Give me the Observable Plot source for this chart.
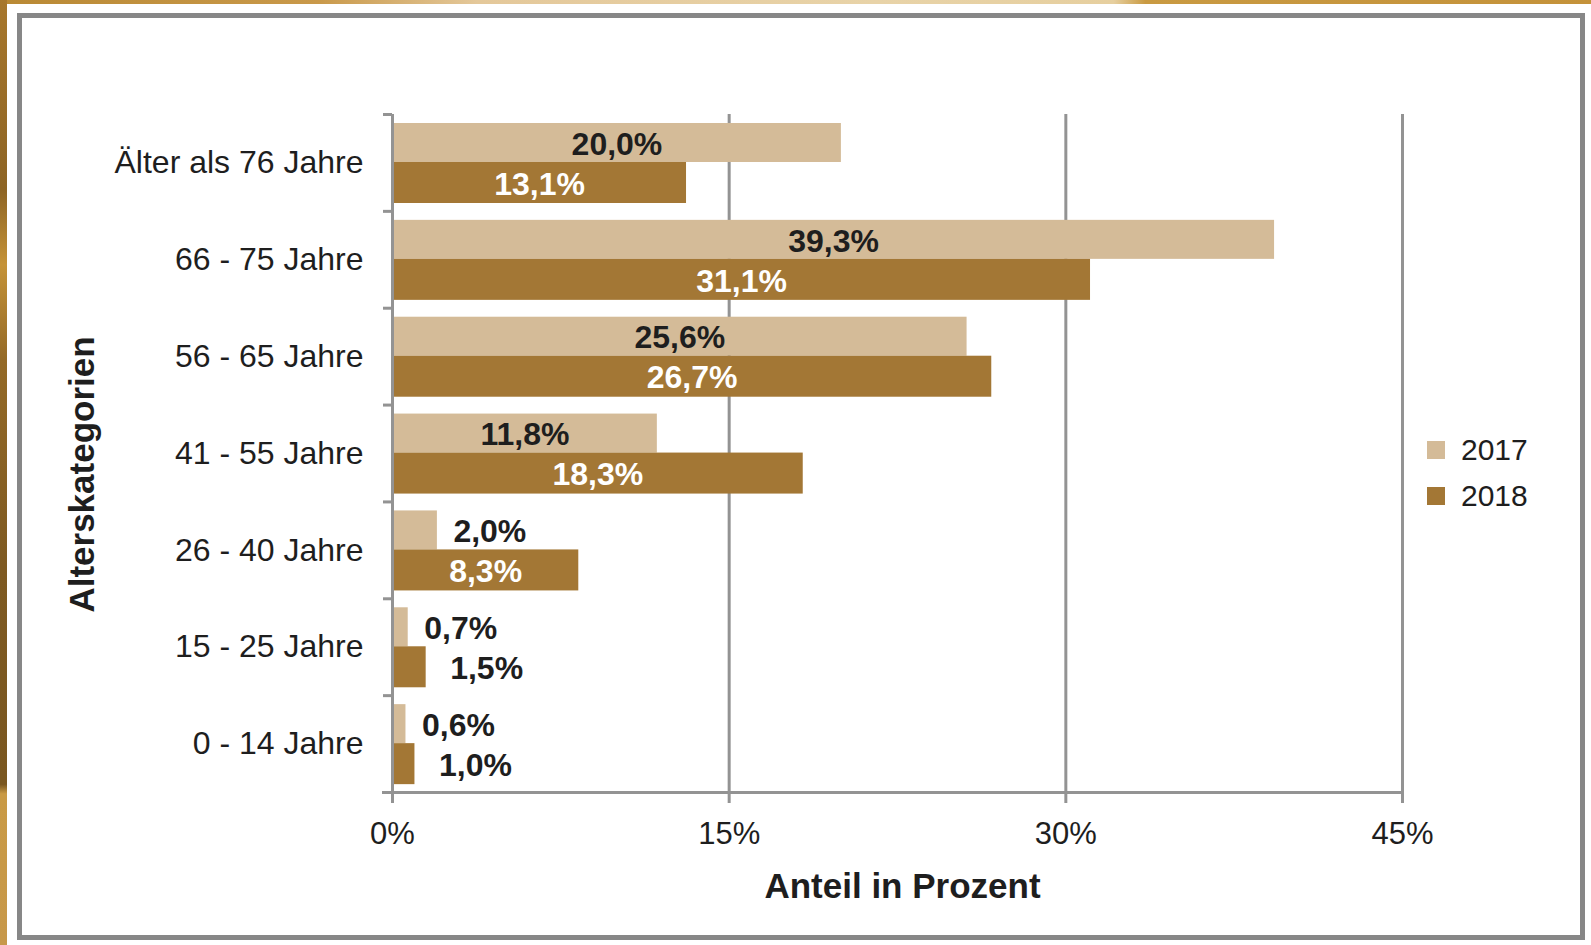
<!DOCTYPE html>
<html>
<head>
<meta charset="utf-8">
<script src="https://cdn.jsdelivr.net/npm/d3@7"></script>
<script src="https://cdn.jsdelivr.net/npm/@observablehq/plot@0.6"></script>
<style>
  html, body { margin: 0; padding: 0; background: #ffffff; overflow: hidden; }
  #page { position: relative; width: 1591px; height: 945px; background: #ffffff; }
  #goldTop { position: absolute; left: 0; top: 0; width: 1591px; height: 4px;
    background: linear-gradient(90deg, #b98934 0%, #c9994a 20%, #e4c89a 30%, #e8d3a8 55%, #e6cf9f 70%, #c99a42 72%, #c4923a 100%); }
  #goldLeft { position: absolute; left: 0; top: 0; width: 7px; height: 945px;
    background: linear-gradient(180deg, #a7772c 0%, #8d6424 20%, #c59338 28%, #946a27 38%, #7e5a22 60%, #7a5720 83%, #c99a45 84%, #c7984a 100%); }
  #frame { position: absolute; left: 17px; top: 13px; width: 1558px; height: 917px;
    border: 5px solid #878787; background: #ffffff; }
  #chart { position: absolute; left: 0; top: 0; width: 1591px; height: 945px; }
  .legend { position: absolute; left: 1427px; font-family: "Liberation Sans", Arial, sans-serif;
    font-size: 30px; color: #1e1e1e; display: flex; align-items: center; }
  .legend .sw { width: 18px; height: 18px; margin-right: 16px; }
</style>
</head>
<body>
<div id="page">
  <div id="goldTop"></div>
  <div id="goldLeft"></div>
  <div id="frame"></div>
  <div id="chart"></div>
</div>
<script>
// ---- data ----
const categories = ["Älter als 76 Jahre", "66 - 75 Jahre", "56 - 65 Jahre", "41 - 55 Jahre", "26 - 40 Jahre", "15 - 25 Jahre", "0 - 14 Jahre"];
const years = ["2017", "2018"];
const values2017 = [20.0, 39.3, 25.6, 11.8, 2.0, 0.7, 0.6];
const values2018 = [13.1, 31.1, 26.7, 18.3, 8.3, 1.5, 1.0];
const xTicks = [0, 15, 30, 45];
const colors = ["#d4bb98", "#a37735"];
const xTitle = "Anteil in Prozent";
const yTitle = "Alterskategorien";

// ---- layout ----
const W = 1591, H = 945;
const mL = 392, mR = 189, mT = 114, mB = 153;
const plotW = W - mL - mR;
const bw = (H - mT - mB) / categories.length;
const gray = "#939393";
const dark = "#1e1e1e";
const font = "'Liberation Sans', Arial, sans-serif";

const rows = categories.flatMap((c, i) => [
  {category: c, year: years[0], value: values2017[i]},
  {category: c, year: years[1], value: values2018[i]}
]);
const fmt = v => v.toFixed(1).replace(".", ",") + "%";
const inside = d => d.value > 5;
const r17 = rows.filter(d => d.year === years[0]);
const r18 = rows.filter(d => d.year === years[1]);

const chart = Plot.plot({
  width: W, height: H,
  marginLeft: mL, marginRight: mR, marginTop: mT, marginBottom: mB,
  style: {background: "transparent", fontFamily: font, overflow: "visible"},
  x: {domain: [0, 45]},
  y: {domain: categories, padding: 0, round: false},
  marks: [
    Plot.ruleX(xTicks.slice(1), {stroke: gray, strokeWidth: 3}),
    Plot.barX(r17, {x: "value", y: "category", fill: colors[0], insetTop: 9, insetBottom: bw - 48}),
    Plot.barX(r18, {x: "value", y: "category", fill: colors[1], insetTop: 48, insetBottom: bw - 89}),
    Plot.ruleX([0], {stroke: gray, strokeWidth: 3}),
    Plot.ruleY(categories, {y: d => d, dy: -bw / 2, insetLeft: -9, insetRight: plotW, stroke: gray, strokeWidth: 3}),
    Plot.ruleY([categories[categories.length - 1]], {y: d => d, dy: bw / 2, insetLeft: -10, stroke: gray, strokeWidth: 3}),
    Plot.axisX(xTicks, {tickFormat: d => d + "%", tickSize: 11, tickPadding: 18, fontSize: 31,
      stroke: gray, strokeWidth: 3, fill: dark, label: null}),
    Plot.axisY({tickSize: 0, tickPadding: 29, fontSize: 32, fill: dark, label: null}),
    // value labels 2017
    Plot.text(r17.filter(inside), {x: d => d.value / 2, y: "category", dy: -18.5, text: d => fmt(d.value),
      fill: dark, fontWeight: "bold", fontSize: 32}),
    Plot.text(r17.filter(d => !inside(d)), {x: "value", y: "category", dy: -18.5, dx: 16, textAnchor: "start",
      text: d => fmt(d.value), fill: dark, fontWeight: "bold", fontSize: 32}),
    // value labels 2018
    Plot.text(r18.filter(inside), {x: d => d.value / 2, y: "category", dy: 21.5, text: d => fmt(d.value),
      fill: "#ffffff", fontWeight: "bold", fontSize: 32}),
    Plot.text(r18.filter(d => !inside(d)), {x: "value", y: "category", dy: 21.5, dx: 24, textAnchor: "start",
      text: d => fmt(d.value), fill: dark, fontWeight: "bold", fontSize: 32}),
    // axis titles
    Plot.text([xTitle], {frameAnchor: "bottom", lineAnchor: "middle", dx: 5, dy: 94,
      fontWeight: "bold", fontSize: 35, fill: dark}),
    Plot.text([yTitle], {frameAnchor: "left", textAnchor: "middle", lineAnchor: "middle", rotate: -90,
      dx: -310, dy: 21, fontWeight: "bold", fontSize: 35, fill: dark})
  ]
});
document.getElementById("chart").appendChild(chart);

// legend
const page = document.getElementById("page");
const legendTops = [433, 479];
years.forEach((y, i) => {
  const el = document.createElement("div");
  el.className = "legend";
  el.style.top = legendTops[i] + "px";
  const sw = document.createElement("div");
  sw.className = "sw";
  sw.style.background = colors[i];
  const t = document.createElement("span");
  t.textContent = y;
  el.appendChild(sw);
  el.appendChild(t);
  page.appendChild(el);
});
</script>
</body>
</html>
